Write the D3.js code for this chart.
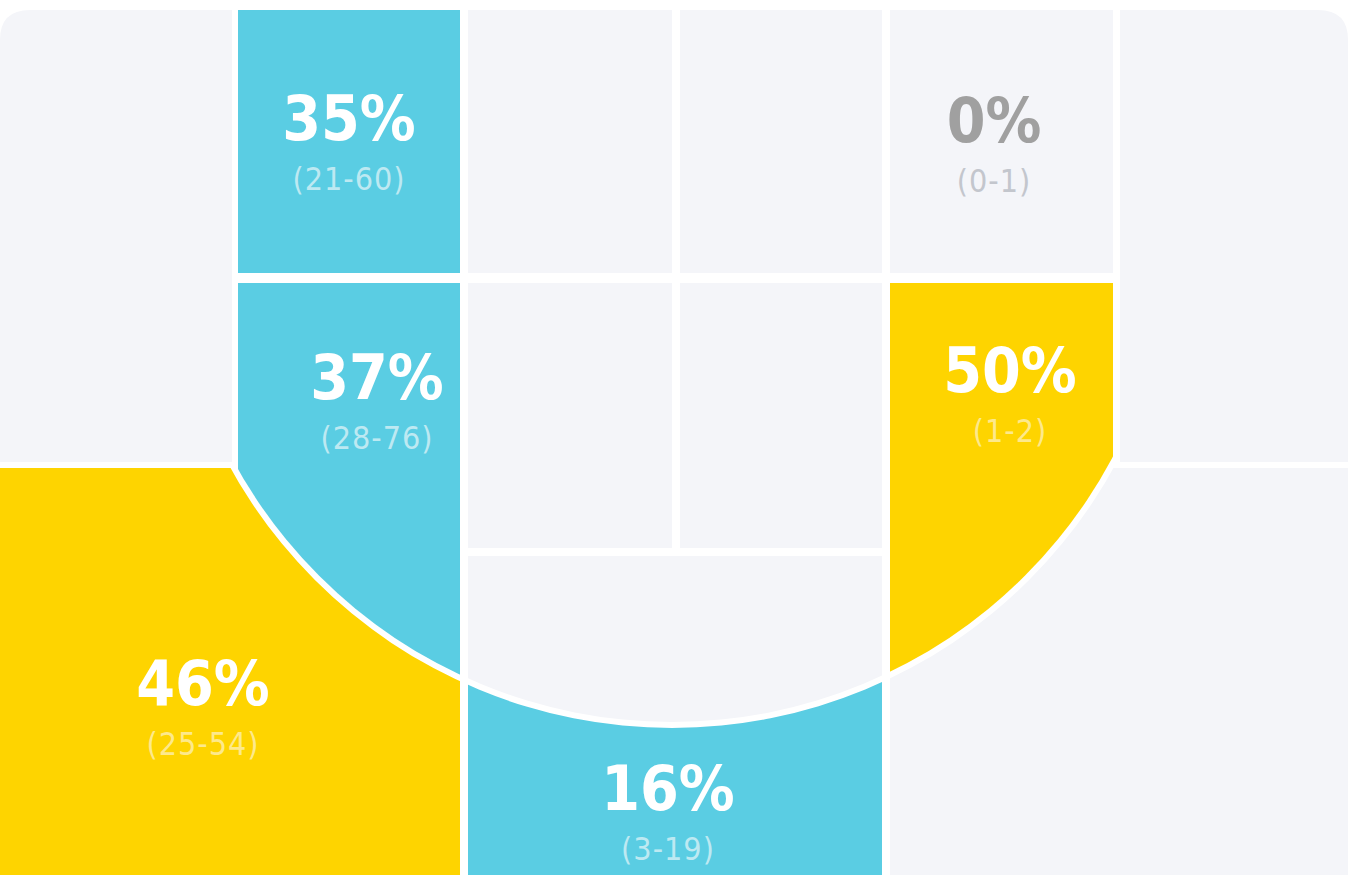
<!DOCTYPE html>
<html><head><meta charset="utf-8">
<script src="https://cdn.jsdelivr.net/npm/d3@7"></script>
<style>body{margin:0;background:#fff}svg{display:block}</style>
</head><body>
<script>
// court zones, coordinates in court units (0..1348 wide, 0..875 deep)
var zoneNames = ["leftCorner","leftTop","leftMid","leftWing","midTL","midTR","midML","midMR","paint","top","rightTop","rightMid","rightCorner","rightWing"];
var zoneRects = [[0,10,232,462],[238,10,460,273],[238,283,460,875],[0,468,460,875],[468,10,672,273],[680,10,882,273],[468,283,672,548],[680,283,882,548],[468,556,882,875],[468,556,882,875],[890,10,1113,273],[890,283,1113,875],[1120,10,1348,462],[890,468,1348,875]];
var zoneClip = [null,null,"in","out",null,null,null,null,"in","out",null,"in",null,"out"];
var zonePct = [null,35,37,46,null,null,null,null,null,16,0,50,null,null];
var zoneRange = [null,"21-60","28-76","25-54",null,null,null,null,null,"3-19","0-1","1-2",null,null];
var zoneLabelPos = [null,[349,118],[377,377],[203,683],null,null,null,null,null,[668,788],[994,120],[1010,370],null,null];
var arc = {cx: 672, cy: 223, r: 502};

var W = 1348, H = 875;
var x = d3.scaleLinear().domain([0, 1348]).range([0, W]);
var y = d3.scaleLinear().domain([0, 875]).range([0, H]);

function fill(p){ if (p === null || p === 0) return "#f4f5f9"; return p >= 45 ? "#fed400" : "#5acde3"; }
function subFill(p){ if (p === null || p === 0) return "#c3c6cd"; return p >= 45 ? "#fde98c" : "#bde9f2"; }

var svg = d3.select("body").append("svg").attr("width", W).attr("height", H);
var defs = svg.append("defs");
defs.append("clipPath").attr("id","court").append("path")
  .attr("d", "M0," + (y(875)) + "V" + (y(10)+30) + "Q0," + y(10) + " 30," + y(10) + "H" + (W-30) + "Q" + W + "," + y(10) + " " + W + "," + (y(10)+30) + "V" + H + "Z");
defs.append("clipPath").attr("id","in").append("circle")
  .attr("cx", x(arc.cx)).attr("cy", y(arc.cy)).attr("r", x(arc.r) - x(0) - 3);
var outP = "M-10,-10H" + (W+10) + "V" + (H+10) + "H-10Z";
var cx = x(arc.cx), cy = y(arc.cy), rr = x(arc.r) - x(0) + 3;
outP += "M" + (cx - rr) + "," + cy + "a" + rr + "," + rr + " 0 1,0 " + (2*rr) + ",0a" + rr + "," + rr + " 0 1,0 " + (-2*rr) + ",0Z";
defs.append("clipPath").attr("id","out").append("path").attr("d", outP).attr("clip-rule","evenodd");

var g = svg.append("g").attr("clip-path","url(#court)");

zoneNames.forEach(function(n, i){
  var r = zoneRects[i];
  var gg = g.append("g");
  if (zoneClip[i]) gg.attr("clip-path", "url(#" + zoneClip[i] + ")");
  gg.append("rect").attr("x", x(r[0])).attr("y", y(r[1]))
    .attr("width", x(r[2]) - x(r[0])).attr("height", y(r[3]) - y(r[1]))
    .attr("fill", fill(zonePct[i]));
});

zoneNames.forEach(function(n, i){
  if (zonePct[i] === null) return;
  var p = zoneLabelPos[i];
  g.append("text").attr("x", x(p[0])).attr("y", y(p[1]) + 22)
    .attr("text-anchor","middle").attr("font-family","'DejaVu Sans Condensed','DejaVu Sans',sans-serif")
    .attr("font-weight","bold").attr("font-size", 62)
    .attr("fill", zonePct[i] === 0 ? "#a0a0a0" : "#fff").text(zonePct[i] + "%");
  g.append("text").attr("x", x(p[0])).attr("y", y(p[1]) + 72)
    .attr("text-anchor","middle").attr("font-family","'DejaVu Sans Condensed','DejaVu Sans',sans-serif")
    .attr("font-size", 32).attr("letter-spacing", 1)
    .attr("fill", subFill(zonePct[i])).text("(" + zoneRange[i] + ")");
});
</script>
</body></html>
